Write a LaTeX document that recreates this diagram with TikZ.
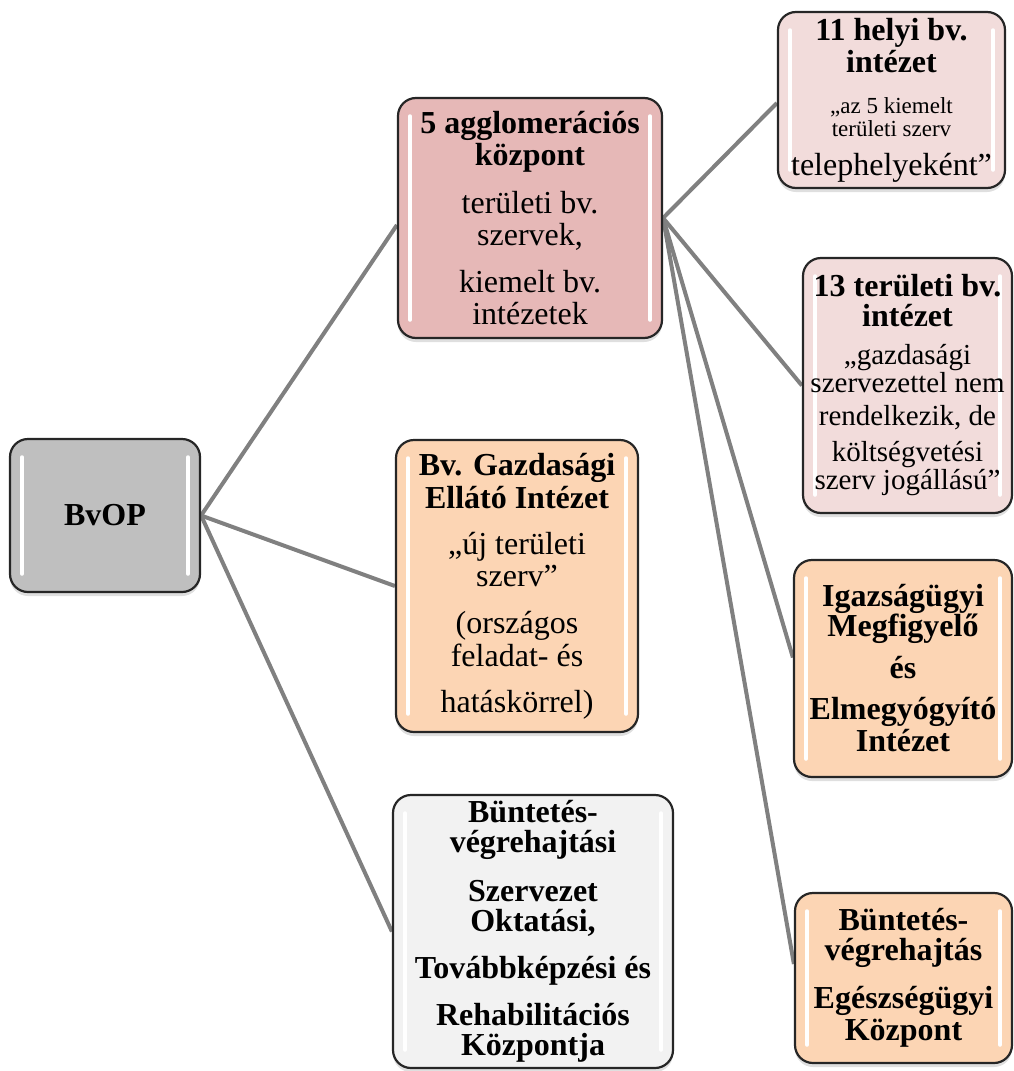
\documentclass[tikz,border=0pt]{standalone}
\usepackage{fontspec}
\setmainfont{Liberation Serif}
\usetikzlibrary{shadows,backgrounds}
\definecolor{bvgray}{RGB}{191,191,191}
\definecolor{aggpink}{RGB}{230,184,183}
\definecolor{litepink}{RGB}{242,220,219}
\definecolor{peach}{RGB}{252,213,180}
\definecolor{litegray}{RGB}{242,242,242}
\definecolor{linegray}{RGB}{128,128,128}
\tikzset{
  box/.style={draw=black!85,line width=2.2pt,rounded corners=18pt,align=center,inner sep=2pt,
    font=\fontsize{32}{32}\selectfont,
    drop shadow={shadow xshift=0pt,shadow yshift=-4pt,opacity=0.25},
    path picture={\draw[white,line width=3.5pt,line cap=round]
      ([xshift=12pt,yshift=-18pt]path picture bounding box.north west) -- ([xshift=12pt,yshift=18pt]path picture bounding box.south west)
      ([xshift=-12pt,yshift=-18pt]path picture bounding box.north east) -- ([xshift=-12pt,yshift=18pt]path picture bounding box.south east);}},
  boldbox/.style={box,font=\fontsize{32}{32}\selectfont\bfseries},
  conn/.style={draw=linegray,line width=4pt}
}
\newcommand{\subsize}[1]{\fontsize{#1}{#1}\selectfont}
\begin{document}
\begin{tikzpicture}[x=1pt,y=-1pt]
\useasboundingbox (0,0) rectangle (1014,1071);
\node[boldbox,fill=bvgray,minimum width=190pt,minimum height=153pt] (bvop) at (105,515.5) {BvOP};
\node[box,fill=aggpink,minimum width=264pt,minimum height=240pt] (agglo) at (530,218)
  {\textbf{5 agglomerációs}\\\textbf{központ}\\[16pt]területi bv.\\szervek,\\[15pt]kiemelt bv.\\intézetek};
\node[box,fill=peach,minimum width=242pt,minimum height=292pt] (gei) at (517,586)
  {\textbf{Bv. Gazdasági}\\[1pt]\textbf{Ellátó Intézet}\\[14pt]„új területi\\szerv”\\[15pt](országos\\[1pt]feladat- és\\[14pt]hatáskörrel)};
\node[boldbox,fill=litegray,minimum width=280pt,minimum height=273pt] (oktat) at (533,931.5)
  {Büntetés-\\[-2pt]végrehajtási\\[17pt]Szervezet\\[-2pt]Oktatási,\\[15pt]Továbbképzési és\\[15pt]Rehabilitációs\\[-2pt]Központja};
\node[box,fill=litepink,minimum width=227pt,minimum height=176pt] (helyi) at (891.5,100)
  {\textbf{11 helyi bv.}\\\textbf{intézet}\\[9pt]{\subsize{23}„az 5 kiemelt}\\[-9pt]{\subsize{23}területi szerv}\\[7pt]telephelyeként”};
\node[box,fill=litepink,minimum width=209pt,minimum height=255pt] (terul) at (907.5,385.5)
  {\textbf{13 területi bv.}\\[-2pt]\textbf{intézet}\\[6pt]{\subsize{29}„gazdasági}\\[-4pt]{\subsize{29}szervezettel nem}\\[1pt]{\subsize{29}rendelkezik, de}\\[4pt]{\subsize{29}költségvetési}\\[-4pt]{\subsize{29}szerv jogállású”}};
\node[boldbox,fill=peach,minimum width=218pt,minimum height=217pt] (imei) at (903,668.5)
  {Igazságügyi\\[-2pt]Megfigyelő\\[10pt]és\\[9pt]Elmegyógyító\\Intézet};
\node[boldbox,fill=peach,minimum width=217pt,minimum height=170pt] (eki) at (903.5,978)
  {Büntetés-\\[-2pt]végrehajtás\\[16pt]Egészségügyi\\Központ};
\begin{scope}[on background layer]
\draw[conn] (bvop.east) -- ([yshift=-7pt]agglo.west);
\draw[conn] (bvop.east) -- (gei.west);
\draw[conn] (bvop.east) -- (oktat.west);
\draw[conn] (agglo.east) -- ([yshift=-3pt]helyi.west);
\draw[conn] (agglo.east) -- (terul.west);
\draw[conn] (agglo.east) -- ([yshift=11pt]imei.west);
\draw[conn] (agglo.east) -- ([yshift=14pt]eki.west);
\end{scope}
\end{tikzpicture}
\end{document}
